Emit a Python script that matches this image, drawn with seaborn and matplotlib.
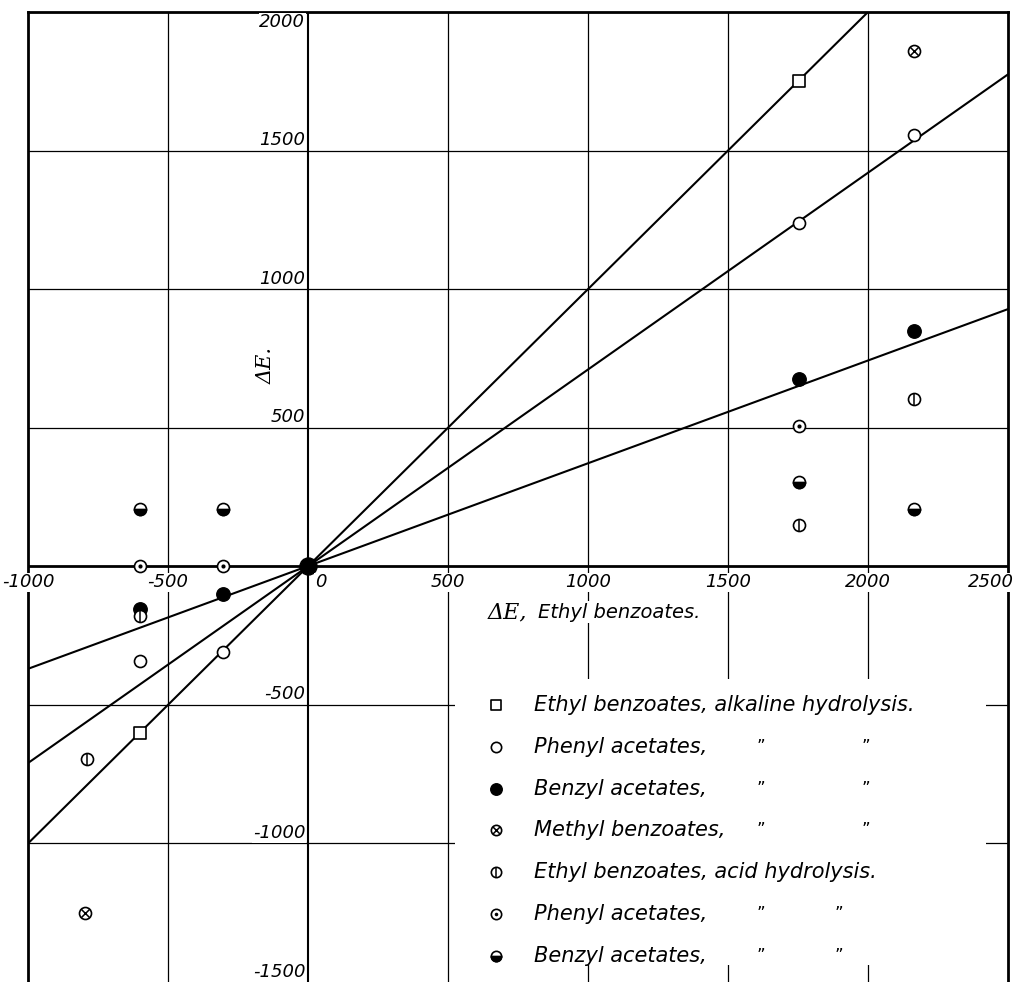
import numpy as np
import pandas as pd
import matplotlib.pyplot as plt
import seaborn as sns
from matplotlib.markers import MarkerStyle
from matplotlib.patches import Rectangle

sns.set_style("white")
plt.rcParams['font.family'] = ['DejaVu Sans']
plt.rcParams['text.color'] = 'black'

# --- data ---
# Ethyl benzoates, alkaline hydrolysis (open squares)
ethyl_alk_x = [1755, -600]
ethyl_alk_y = [1750, -600]
# Phenyl acetates, alkaline (open circles)
phenyl_alk_x = [2165, 1755, -600, -305]
phenyl_alk_y = [1555, 1240, -340, -310]
# Benzyl acetates, alkaline (filled circles)
benzyl_alk_x = [2165, 1755, -600, -305]
benzyl_alk_y = [850, 675, -155, -100]
# Methyl benzoates, alkaline (crossed circles)
methyl_alk_x = [2165, -795]
methyl_alk_y = [1860, -1250]
# Ethyl benzoates, acid hydrolysis (circle with bar)
ethyl_acid_x = [2165, 1755, -600, -790]
ethyl_acid_y = [605, 150, -180, -695]
# Phenyl acetates, acid (dotted circles)
phenyl_acid_x = [1755, -600, -305]
phenyl_acid_y = [505, 0, 0]
# Benzyl acetates, acid (half filled circles)
benzyl_acid_x = [2165, 1755, -600, -305]
benzyl_acid_y = [205, 305, 205, 205]

# common origin
origin_x = [0]
origin_y = [0]

# the three straight lines through the origin (end points)
line_x = [-1000, 2500]
line_steep_y = [-1000, 2500]
line_mid_y = [-710, 1775]
line_flat_y = [-370, 928]

x_ticks = [-1000, -500, 0, 500, 1000, 1500, 2000, 2500]
y_ticks = [-1500, -1000, -500, 500, 1000, 1500, 2000]

legend_labels = [
    "Ethyl benzoates, alkaline hydrolysis.",
    "Phenyl acetates,",
    "Benzyl acetates,",
    "Methyl benzoates,",
    "Ethyl benzoates, acid hydrolysis.",
    "Phenyl acetates,",
    "Benzyl acetates,",
]
legend_kinds = ["square", "open", "filled", "crossed", "bar", "dotted", "half"]
ditto_rows = [1, 2, 3, 5, 6]

# --- figure ---
fig = plt.figure(figsize=(10.21, 9.82), dpi=100)
ax = fig.add_axes([28 / 1021, 0, 980 / 1021, 970 / 982])
ax.set_xlim(-1000, 2500)
ax.set_ylim(-1500, 2000)
ax.set_xticks([])
ax.set_yticks([])
for side in ["left", "right", "top"]:
    ax.spines[side].set_linewidth(2)
    ax.spines[side].set_color("black")
ax.spines["bottom"].set_visible(False)

# grid
for t in x_ticks:
    if t not in (-1000, 0, 2500):
        ax.axvline(t, color="black", lw=0.9, zorder=1)
for t in y_ticks:
    if t not in (2000, -1500):
        ax.axhline(t, color="black", lw=0.9, zorder=1)
ax.axhline(0, color="black", lw=2, zorder=2)
ax.axvline(0, color="black", lw=1.5, zorder=2)


def draw(kind, xs, ys, size=75):
    kw = dict(ax=ax, legend=False, zorder=6)
    if kind == "square":
        sns.scatterplot(x=xs, y=ys, marker="s", s=size * 0.9, facecolor="white",
                        edgecolor="black", linewidth=1.2, **kw)
    elif kind == "filled":
        sns.scatterplot(x=xs, y=ys, marker="o", s=size * 1.25, color="black",
                        edgecolor="black", linewidth=1, **kw)
    else:
        sns.scatterplot(x=xs, y=ys, marker="o", s=size, facecolor="white",
                        edgecolor="black", linewidth=1.2, **kw)
    kw["zorder"] = 7
    if kind == "crossed":
        sns.scatterplot(x=xs, y=ys, marker="x", s=size * 0.45, color="black",
                        linewidth=1.1, **kw)
    elif kind == "bar":
        sns.scatterplot(x=xs, y=ys, marker="|", s=size * 0.95, color="black",
                        linewidth=1.1, **kw)
    elif kind == "dotted":
        sns.scatterplot(x=xs, y=ys, marker="o", s=size * 0.12, color="black",
                        edgecolor="black", linewidth=0, **kw)
    elif kind == "half":
        sns.scatterplot(x=xs, y=ys, marker=MarkerStyle("o", fillstyle="bottom"),
                        s=size, color="black", edgecolor="black", linewidth=1.2, **kw)


# fitted lines
for ly in (line_steep_y, line_mid_y, line_flat_y):
    sns.lineplot(x=line_x, y=ly, color="black", lw=1.5, ax=ax, zorder=4)

draw("square", ethyl_alk_x, ethyl_alk_y)
draw("open", phenyl_alk_x, phenyl_alk_y)
draw("filled", benzyl_alk_x, benzyl_alk_y)
draw("crossed", methyl_alk_x, methyl_alk_y)
draw("bar", ethyl_acid_x, ethyl_acid_y)
draw("dotted", phenyl_acid_x, phenyl_acid_y)
draw("half", benzyl_acid_x, benzyl_acid_y)
draw("filled", origin_x, origin_y, size=120)

# tick labels
lab_kw = dict(fontsize=13, style="italic", color="black", zorder=8,
              bbox=dict(facecolor="white", edgecolor="none", pad=0.5))
for t in x_ticks:
    ha = "center"
    dx = 0
    if t == 0:
        ha, dx = "left", 5
    elif t == 2500:
        ha, dx = "right", 4
    ax.annotate(f"{t}", (t, 0), xytext=(dx, -5), textcoords="offset points",
                ha=ha, va="top", annotation_clip=False, **lab_kw)
for t in y_ticks:
    va = "top" if t == 2000 else "bottom"
    dy = -1 if t == 2000 else 1
    ax.annotate(f"{t}", (0, t), xytext=(-2, dy), textcoords="offset points",
                ha="right", va=va, annotation_clip=False, **lab_kw)

# axis titles
ax.text(-150, 725, "ΔE.", rotation=90, fontsize=15, family="DejaVu Serif",
        style="italic", ha="center", va="center", zorder=8)
ax.text(643, -165, "ΔE,", fontsize=16, family="DejaVu Serif", style="italic",
        ha="left", va="center", zorder=8)
ax.text(821, -165, "Ethyl benzoates.", fontsize=14, style="italic",
        ha="left", va="center", zorder=8,
        bbox=dict(facecolor="white", edgecolor="none", pad=1))

# legend box
ax.add_patch(Rectangle((525, -1440), 2420 - 525, 1035, facecolor="white",
                       edgecolor="none", zorder=3))
for i, (lab, kind) in enumerate(zip(legend_labels, legend_kinds)):
    ry = -500 - 151 * i
    draw(kind, [671], [ry], size=55)
    ax.text(807, ry, lab, fontsize=15, style="italic", ha="left",
            va="center", zorder=8)
    if i in ditto_rows:
        second = 1993 if i < 4 else 1896
        for dxp in (1618, second):
            ax.text(dxp, ry, "\u201d", fontsize=12, ha="center", va="center",
                    zorder=8)

fig.savefig("out.png", dpi=100)
